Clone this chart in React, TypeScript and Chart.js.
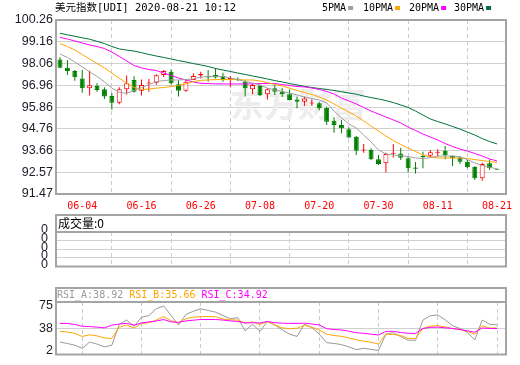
import React, { useEffect, useRef } from 'react';
import { Chart, registerables } from 'chart.js';

Chart.register(...registerables);

// ---------- data ----------
const dates = [
  '06-01','06-02','06-03','06-04','06-05','06-08','06-09','06-10','06-11','06-12',
  '06-15','06-16','06-17','06-18','06-19','06-22','06-23','06-24','06-25','06-26',
  '06-29','06-30','07-01','07-02','07-03','07-06','07-07','07-08','07-09','07-10',
  '07-13','07-14','07-15','07-16','07-17','07-20','07-21','07-22','07-23','07-24',
  '07-27','07-28','07-29','07-30','07-31','08-03','08-04','08-05','08-06','08-07',
  '08-10','08-11','08-12','08-13','08-14','08-17','08-18','08-19','08-20','08-21',
];

const opens = [
  98.27, 97.85, 97.68, 97.31, 96.81, 96.93, 96.76, 96.42, 96.08, 96.76,
  97.23, 96.69, 97.05, 97.09, 97.48, 97.65, 97.02, 96.69, 97.23, 97.46,
  97.43, 97.48, 97.43, 97.26, 97.28, 97.14, 96.76, 96.93, 96.51, 96.81,
  96.64, 96.51, 96.25, 96.13, 96.04, 96.05, 95.83, 95.17, 94.95, 94.74,
  94.36, 93.67, 93.69, 93.22, 93.02, 93.50, 93.52, 93.27, 92.81, 93.39,
  93.40, 93.56, 93.65, 93.39, 93.32, 93.10, 92.85, 92.26, 93.02, 92.72,
];
const highs = [
  98.38, 98.24, 97.73, 97.73, 97.70, 97.06, 96.86, 96.56, 96.86, 97.45,
  97.42, 97.26, 97.28, 97.52, 97.73, 97.76, 97.22, 97.26, 97.57, 97.64,
  97.73, 97.82, 97.60, 97.43, 97.36, 97.23, 97.06, 96.98, 96.81, 96.98,
  96.81, 96.76, 96.39, 96.39, 96.25, 96.13, 95.88, 95.35, 95.21, 94.83,
  94.40, 93.99, 93.78, 93.44, 93.56, 93.99, 93.81, 93.35, 93.09, 93.61,
  93.69, 93.73, 93.90, 93.42, 93.39, 93.19, 92.88, 93.05, 93.22, 92.74,
];
const lows = [
  97.82, 97.48, 97.19, 96.59, 96.44, 96.64, 96.27, 95.72, 96.00, 96.50,
  96.58, 96.44, 96.64, 96.99, 97.38, 97.00, 96.39, 96.64, 97.23, 97.31,
  97.14, 97.31, 97.14, 96.86, 97.18, 96.39, 96.51, 96.42, 96.25, 96.47,
  96.37, 96.20, 95.80, 95.91, 95.93, 95.70, 94.96, 94.56, 94.54, 94.29,
  93.44, 93.56, 93.19, 92.93, 92.55, 93.32, 93.19, 92.55, 92.50, 92.77,
  93.32, 93.35, 93.22, 92.88, 92.98, 92.77, 92.18, 92.14, 92.68, 92.68,
];
const closes = [
  97.85, 97.68, 97.37, 96.81, 96.96, 96.73, 96.39, 96.08, 96.76, 97.06,
  96.64, 96.98, 97.09, 97.47, 97.68, 97.06, 96.69, 97.14, 97.43, 97.53,
  97.36, 97.36, 97.23, 97.33, 97.24, 96.81, 96.98, 96.47, 96.76, 96.64,
  96.51, 96.22, 96.13, 96.30, 96.08, 95.80, 95.12, 94.95, 94.79, 94.33,
  93.66, 93.72, 93.22, 92.98, 93.49, 93.56, 93.30, 92.77, 92.75, 93.33,
  93.58, 93.61, 93.43, 93.27, 93.10, 92.82, 92.26, 92.98, 92.77, 92.70,
];

const ma5 = [
  98.54, 98.37, 98.14, 97.89, 97.63, 97.41, 97.13, 96.82, 96.60, 96.56,
  96.70, 96.85, 97.00, 97.14, 97.20, 97.23, 97.23, 97.25, 97.28, 97.38,
  97.41, 97.41, 97.41, 97.33, 97.25, 97.15, 97.08, 96.98, 96.82, 96.72,
  96.65, 96.57, 96.47, 96.37, 96.29, 96.22, 96.07, 95.66, 95.31, 95.01,
  94.80, 94.45, 94.10, 93.69, 93.49, 93.44, 93.41, 93.36, 93.29, 93.26,
  93.31, 93.39, 93.39, 93.39, 93.34, 93.21, 93.04, 92.91, 92.83, 92.73,
];
const ma10 = [
  99.07, 98.92, 98.74, 98.52, 98.29, 98.06, 97.84, 97.58, 97.32, 97.08,
  96.85, 96.75, 96.77, 96.82, 96.85, 96.90, 96.95, 97.03, 97.15, 97.21,
  97.23, 97.25, 97.25, 97.25, 97.25, 97.23, 97.23, 97.18, 97.10, 97.00,
  96.93, 96.82, 96.70, 96.60, 96.50, 96.37, 96.22, 96.02, 95.81, 95.61,
  95.41, 95.16, 94.90, 94.65, 94.40, 94.17, 93.97, 93.79, 93.62, 93.44,
  93.34, 93.29, 93.29, 93.29, 93.29, 93.26, 93.21, 93.16, 93.11, 93.06,
];
const ma20 = [
  99.38, 99.30, 99.20, 99.10, 99.00, 98.92, 98.82, 98.64, 98.42, 98.19,
  97.96, 97.84, 97.76, 97.71, 97.58, 97.46, 97.33, 97.23, 97.13, 97.06,
  97.05, 97.03, 97.03, 97.03, 97.03, 97.03, 97.03, 97.05, 97.05, 97.05,
  97.00, 96.95, 96.90, 96.88, 96.82, 96.75, 96.65, 96.52, 96.32, 96.17,
  96.02, 95.84, 95.66, 95.51, 95.36, 95.21, 95.06, 94.85, 94.68, 94.50,
  94.35, 94.20, 94.02, 93.87, 93.74, 93.64, 93.52, 93.39, 93.24, 93.14,
];
const ma30 = [
  99.59, 99.51, 99.44, 99.36, 99.29, 99.18, 99.07, 98.92, 98.80, 98.74,
  98.69, 98.61, 98.52, 98.44, 98.37, 98.29, 98.21, 98.14, 98.06, 97.99,
  97.91, 97.81, 97.73, 97.66, 97.58, 97.51, 97.43, 97.36, 97.28, 97.20,
  97.13, 97.05, 96.98, 96.91, 96.85, 96.80, 96.75, 96.70, 96.64, 96.57,
  96.51, 96.42, 96.34, 96.27, 96.19, 96.09, 95.97, 95.84, 95.66, 95.46,
  95.26, 95.13, 95.01, 94.88, 94.75, 94.60, 94.45, 94.27, 94.12, 94.00,
];

const volumes = [
  0, 0, 0, 0, 0, 0, 0, 0, 0, 0, 0, 0, 0, 0, 0, 0, 0, 0, 0, 0,
  0, 0, 0, 0, 0, 0, 0, 0, 0, 0, 0, 0, 0, 0, 0, 0, 0, 0, 0, 0,
  0, 0, 0, 0, 0, 0, 0, 0, 0, 0, 0, 0, 0, 0, 0, 0, 0, 0, 0, 0,
];

const rsiA = [
  15.4, 13.1, 10.3, 5.2, 15.4, 12.1, 7.5, 10.3, 44.5, 51.4,
  41.2, 56.0, 58.8, 69.8, 74.4, 58.8, 43.1, 60.6, 65.7, 69.8,
  67.1, 64.3, 58.8, 53.6, 55.3, 33.8, 44.5, 32.9, 49.1, 43.5,
  35.2, 28.3, 24.6, 44.5, 39.4, 28.3, 14.5, 13.1, 11.3, 7.5,
  3.0, 5.2, 3.4, 1.6, 28.3, 30.7, 24.2, 18.6, 18.2, 51.4,
  58.4, 59.7, 51.8, 42.2, 37.6, 31.1, 19.0, 51.4, 44.5, 43.5,
];
const rsiB = [
  32.9, 31.8, 29.7, 24.6, 27.3, 25.5, 22.1, 21.4, 39.8, 43.1,
  38.4, 45.9, 47.0, 51.4, 57.0, 50.5, 46.7, 53.6, 56.0, 57.0,
  57.0, 56.7, 53.2, 51.8, 51.4, 46.3, 48.4, 44.2, 49.1, 43.5,
  38.7, 37.3, 38.0, 43.1, 39.4, 35.2, 28.3, 26.2, 24.8, 22.1,
  19.3, 16.8, 15.2, 12.1, 28.3, 27.9, 26.2, 21.4, 21.4, 37.6,
  41.5, 42.2, 40.1, 37.6, 35.9, 32.9, 28.3, 42.2, 38.4, 38.4,
];
const rsiC = [
  45.9, 45.9, 44.2, 41.2, 40.8, 39.8, 38.7, 43.1, 44.9, 45.9,
  43.1, 46.7, 48.4, 49.8, 52.3, 48.4, 47.7, 50.0, 51.2, 52.3,
  52.3, 52.3, 51.4, 50.0, 49.1, 46.7, 47.0, 46.7, 49.1, 47.0,
  46.3, 45.9, 45.9, 46.3, 44.9, 43.5, 37.3, 35.9, 35.2, 33.2,
  30.7, 29.7, 28.3, 26.9, 32.9, 32.9, 31.1, 29.7, 29.7, 37.6,
  39.4, 39.8, 38.7, 37.6, 35.9, 33.8, 31.5, 38.4, 37.6, 37.6,
];

const priceTicks = [100.26, 99.16, 98.06, 96.96, 95.86, 94.76, 93.66, 92.57, 91.47];
const rsiTicks = [75, 38, 2];
const volTickLabels = ['0', '0', '0', '0', '0'];
const xTickDates = ['06-04', '06-16', '06-26', '07-08', '07-20', '07-30', '08-11', '08-21'];

const titleText = '美元指数[UDI] 2020-08-21 10:12';
const watermarkText = '东方财富';
const maNames = ['5PMA', '10PMA', '20PMA', '30PMA'];
const volumeName = '成交量';
const volumeLast = 0;
const rsiNames = ['RSI_A', 'RSI_B', 'RSI_C'];
const rsiLast = [38.92, 35.66, 34.92];

// ---------- styles ----------
const RED = '#ff0000';
const GREEN = '#008000';
const FRAME = '#a4a4a4';
const GRID = '#d0d0d0';
const LABEL = '#1c1c28';
const maColors = ['#a0a0a0', '#ffa500', '#ff00ff', '#00703a'];
const rsiColors = ['#999999', '#ffa500', '#ff00ff'];
const legendX = [322, 363, 409, 454];
const X_MIN = -0.54;
const X_MAX = 60.215;
const tickIdx = xTickDates.map((d) => dates.indexOf(d));

function xScale(showLabels: boolean): any {
  return {
    type: 'linear',
    min: X_MIN,
    max: X_MAX,
    offset: false,
    afterBuildTicks: (s: any) => {
      s.ticks = tickIdx.map((v) => ({ value: v }));
    },
    afterFit: (s: any) => {
      s.height = showLabels ? 21 : 0;
    },
    grid: { color: '#cccccc', drawTicks: false, lineWidth: 1 },
    border: { display: false, dash: [4, 3] },
    ticks: {
      display: showLabels,
      autoSkip: false,
      maxRotation: 0,
      padding: 6,
      color: RED,
      font: { family: 'DejaVu Sans Mono', size: 10 },
      callback: (v: any) => dates[v] ?? '',
    },
  };
}

function drawFrame(chart: any, top: number) {
  const { ctx, chartArea: a } = chart;
  ctx.save();
  ctx.strokeStyle = FRAME;
  ctx.lineWidth = 2;
  ctx.strokeRect(a.left, top, a.right - a.left, a.bottom - top);
  if (top < a.top) {
    ctx.beginPath();
    ctx.moveTo(a.left, a.top);
    ctx.lineTo(a.right, a.top);
    ctx.stroke();
  }
  ctx.restore();
}

const mainDecor = {
  id: 'mainDecor',
  beforeDatasetsDraw(chart: any) {
    const { ctx } = chart;
    ctx.save();
    ctx.fillStyle = '#ededed';
    ctx.font = 'bold 34px "Noto Sans CJK SC"';
    ctx.textBaseline = 'middle';
    ctx.fillText(watermarkText, 230, 104);
    ctx.restore();
  },
  afterDraw(chart: any) {
    const { ctx } = chart;
    drawFrame(chart, chart.chartArea.top);
    ctx.save();
    ctx.textBaseline = 'middle';
    ctx.fillStyle = '#000';
    ctx.font = '10.5px "DejaVu Sans Mono", "Noto Sans CJK SC"';
    ctx.fillText(titleText, 55, 8);
    ctx.font = '10px "DejaVu Sans Mono"';
    maNames.forEach((name, k) => {
      const x = legendX[k];
      ctx.fillStyle = '#000';
      ctx.fillText(name, x, 8);
      const w = ctx.measureText(name).width;
      ctx.fillStyle = maColors[k];
      ctx.fillRect(x + w + 2, 6, 5, 4);
    });
    ctx.restore();
  },
};

const volDecor = {
  id: 'volDecor',
  afterDraw(chart: any) {
    const { ctx } = chart;
    drawFrame(chart, 3);
    ctx.save();
    ctx.textBaseline = 'middle';
    ctx.fillStyle = '#000';
    ctx.font = '12px "Noto Sans CJK SC"';
    ctx.fillText(`${volumeName}:${volumeLast}`, 58, 11.5);
    ctx.restore();
  },
};

const rsiDecor = {
  id: 'rsiDecor',
  afterDraw(chart: any) {
    const { ctx } = chart;
    drawFrame(chart, 3);
    ctx.save();
    ctx.textBaseline = 'middle';
    ctx.font = '10px "DejaVu Sans Mono"';
    let x = 57;
    rsiNames.forEach((n, k) => {
      const s = `${n}:${rsiLast[k].toFixed(2)}`;
      ctx.fillStyle = rsiColors[k];
      ctx.fillText(s, x, 10);
      x += ctx.measureText(s + ' ').width;
    });
    ctx.restore();
  },
};

const pts = (arr: number[]) => arr.map((v, i) => ({ x: i, y: v }));
const isUp = (i: number) => closes[i] >= opens[i];

export default function App() {
  const mainRef = useRef<HTMLCanvasElement>(null);
  const volRef = useRef<HTMLCanvasElement>(null);
  const rsiRef = useRef<HTMLCanvasElement>(null);

  useEffect(() => {
    Chart.defaults.font.family = 'Liberation Sans';

    const wickData = dates.map((_, i) => ({ x: i, y: [lows[i], highs[i]] }));
    const bodyData = dates.map((_, i) => ({
      x: i,
      y: [Math.min(opens[i], closes[i]), Math.max(opens[i], closes[i])],
    }));
    const candleColor = dates.map((_, i) => (isUp(i) ? RED : GREEN));
    const bodyFill = dates.map((_, i) =>
      isUp(i) ? (Math.abs(closes[i] - opens[i]) < 0.08 ? RED : '#ffffff') : GREEN
    );

    const maSets = [ma5, ma10, ma20, ma30].map((arr, k) => ({
      type: 'line',
      label: maNames[k],
      data: pts(arr),
      borderColor: maColors[k],
      borderWidth: 1,
      pointRadius: 0,
      tension: 0,
      fill: false,
      order: k + 1,
    }));

    const main = new Chart(mainRef.current as HTMLCanvasElement, {
      type: 'bar',
      data: {
        datasets: [
          {
            type: 'bar',
            label: 'wick',
            data: wickData as any,
            backgroundColor: candleColor,
            barThickness: 1,
            grouped: false,
            inflateAmount: 0,
            borderWidth: 0,
            order: 10,
          },
          {
            type: 'bar',
            label: 'body',
            data: bodyData as any,
            backgroundColor: bodyFill,
            borderColor: candleColor,
            borderWidth: 1,
            borderSkipped: false,
            barThickness: 5,
            minBarLength: 1,
            grouped: false,
            inflateAmount: 0,
            order: 9,
          },
          ...(maSets as any),
        ],
      },
      options: {
        responsive: false,
        animation: false,
        events: [],
        layout: { padding: { left: 0, right: 14, top: 20, bottom: 0 } },
        plugins: { legend: { display: false }, tooltip: { enabled: false } },
        scales: {
          x: xScale(true),
          y: {
            min: 91.47,
            max: 100.26,
            afterBuildTicks: (s: any) => {
              s.ticks = priceTicks.map((v) => ({ value: v }));
            },
            afterFit: (s: any) => {
              s.width = 56;
            },
            grid: { color: GRID, drawTicks: false, lineWidth: 1 },
            border: { display: false },
            ticks: {
              autoSkip: false,
              padding: 3,
              color: LABEL,
              font: { family: 'Liberation Sans', size: 12.5 },
              callback: (v: any) => Number(v).toFixed(2),
            },
          },
        },
      },
      plugins: [mainDecor],
    } as any);

    const vol = new Chart(volRef.current as HTMLCanvasElement, {
      type: 'bar',
      data: {
        datasets: [
          {
            label: volumeName,
            data: pts(volumes) as any,
            backgroundColor: GREEN,
            barThickness: 5,
          },
        ],
      },
      options: {
        responsive: false,
        animation: false,
        events: [],
        layout: { padding: { left: 0, right: 14, top: 20, bottom: 3 } },
        plugins: { legend: { display: false }, tooltip: { enabled: false } },
        scales: {
          x: xScale(false),
          y: {
            min: 0,
            max: volTickLabels.length - 1,
            afterBuildTicks: (s: any) => {
              s.ticks = volTickLabels.map((_, k) => ({ value: k }));
            },
            afterFit: (s: any) => {
              s.width = 56;
            },
            grid: { color: GRID, drawTicks: false, lineWidth: 1 },
            border: { display: false },
            ticks: {
              autoSkip: false,
              padding: 8,
              labelOffset: -2,
              color: LABEL,
              font: { family: 'Liberation Sans', size: 12.5 },
              callback: (_v: any, idx: number) => volTickLabels[idx],
            },
          },
        },
      },
      plugins: [volDecor],
    } as any);

    const rsi = new Chart(rsiRef.current as HTMLCanvasElement, {
      type: 'line',
      data: {
        datasets: [rsiA, rsiB, rsiC].map((arr, k) => ({
          label: rsiNames[k],
          data: pts(arr),
          borderColor: rsiColors[k],
          borderWidth: 1,
          pointRadius: 0,
          tension: 0,
          fill: false,
          order: 3 - k,
        })) as any,
      },
      options: {
        responsive: false,
        animation: false,
        events: [],
        layout: { padding: { left: 0, right: 14, top: 17, bottom: 1 } },
        plugins: { legend: { display: false }, tooltip: { enabled: false } },
        scales: {
          x: xScale(false),
          y: {
            min: -4.9,
            max: 80.9,
            afterBuildTicks: (s: any) => {
              s.ticks = rsiTicks.map((v) => ({ value: v }));
            },
            afterFit: (s: any) => {
              s.width = 56;
            },
            grid: {
              drawTicks: false,
              lineWidth: 1,
              color: (c: any) => (c.tick && c.tick.value === rsiTicks[1] ? GRID : 'rgba(0,0,0,0)'),
            },
            border: { display: false },
            ticks: {
              autoSkip: false,
              padding: 3,
              color: LABEL,
              font: { family: 'Liberation Sans', size: 12.5 },
              callback: (v: any) => String(v),
            },
          },
        },
      },
      plugins: [rsiDecor],
    } as any);

    return () => {
      main.destroy();
      vol.destroy();
      rsi.destroy();
    };
  }, []);

  const cv = (top: number, h: number): React.CSSProperties => ({
    position: 'absolute',
    left: 0,
    top,
    width: 520,
    height: h,
  });

  return (
    <div style={{ position: 'fixed', left: 0, top: 0, width: 520, height: 365, background: '#fff' }}>
      <canvas ref={mainRef} width={520} height={215} style={cv(0, 215)} />
      <canvas ref={volRef} width={520} height={70} style={cv(212, 70)} />
      <canvas ref={rsiRef} width={520} height={80} style={cv(285, 80)} />
    </div>
  );
}
